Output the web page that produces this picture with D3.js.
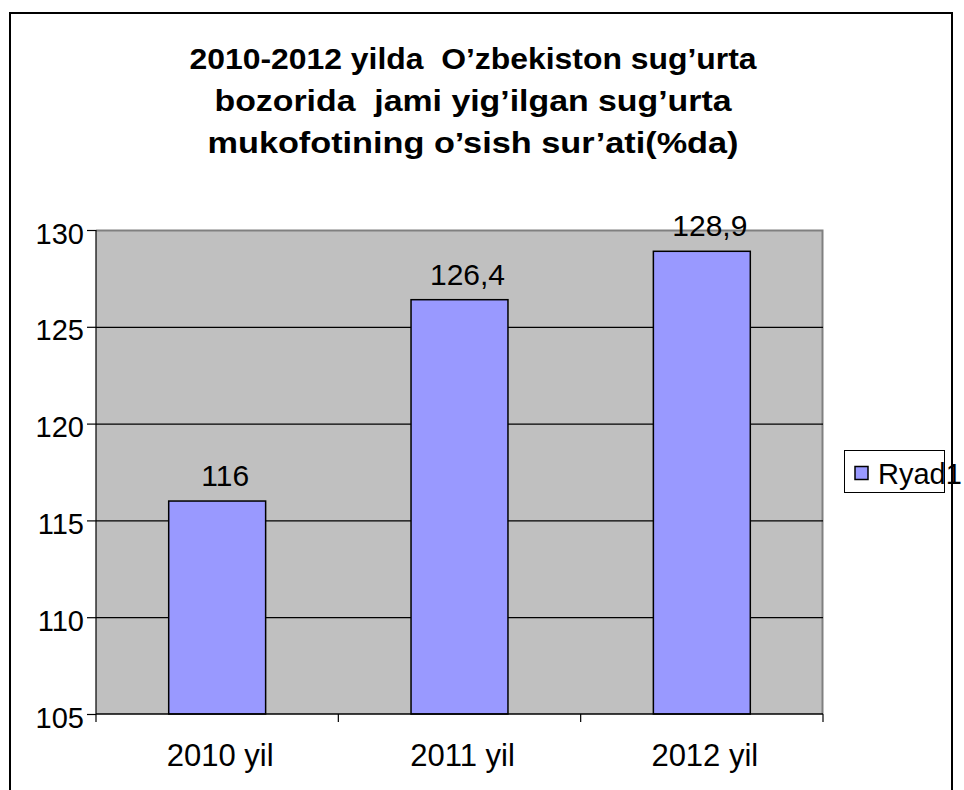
<html>

<head>
    <script src="https://d3js.org/d3.v7.min.js"></script>
    <style>
        body {
            margin: 0;
            background: #fff;
        }

        text {
            font-family: Arial, "Liberation Sans", sans-serif;
            fill: #000;
        }

        .title {
            font-weight: bold;
            font-size: 29px;
            white-space: pre;
        }
    </style>
</head>

<body>
    <svg id="chart" width="964" height="790"></svg>

    <script>
        // chart data
        const categories = ["2010 yil", "2011 yil", "2012 yil"];
        const values = [116, 126.4, 128.9];
        const yTicks = [105, 110, 115, 120, 125, 130];
        const titleLines = [
            "2010-2012 yilda  O\u2019zbekiston sug\u2019urta",
            "bozorida  jami yig\u2019ilgan sug\u2019urta",
            "mukofotining o\u2019sish sur\u2019ati(%da)"
        ];
        const seriesName = "Ryad1";

        const svg = d3.select("#chart");
        const plot = { left: 96, right: 823, top: 230, bottom: 714 };
        const barColor = "#9999FF";

        // outer frame (bottom runs off the page)
        svg.append("path")
            .attr("d", "M10,800 L10,13 L952,13 L952,800")
            .attr("fill", "none")
            .attr("stroke", "black")
            .attr("stroke-width", 2);

        // title
        const titleWidths = [567, 517, 531];
        svg.selectAll("text.title").data(titleLines)
            .join("text")
            .attr("class", "title")
            .attr("x", 473)
            .attr("y", (d, i) => 69 + i * 42)
            .attr("text-anchor", "middle")
            .attr("textLength", (d, i) => titleWidths[i])
            .attr("lengthAdjust", "spacingAndGlyphs")
            .text(d => d);

        const xScale = d3.scaleBand().domain(categories).range([plot.left, plot.right]).padding(0);
        const yScale = d3.scaleLinear().domain([105, 130]).range([plot.bottom, plot.top]);

        // plot area background
        svg.append("rect")
            .attr("x", plot.left)
            .attr("y", plot.top)
            .attr("width", plot.right - plot.left)
            .attr("height", plot.bottom - plot.top)
            .attr("fill", "#C0C0C0");

        // gray border on top and right
        svg.append("path")
            .attr("d", `M${plot.left},${plot.top + 0.5} L${plot.right - 0.5},${plot.top + 0.5} L${plot.right - 0.5},${plot.bottom}`)
            .attr("fill", "none")
            .attr("stroke", "#808080")
            .attr("stroke-width", 2);

        // gridlines
        let gridlines = d3.axisLeft(yScale)
            .tickValues(yTicks.filter(t => t > 105 && t < 130))
            .tickSize(-(plot.right - plot.left))
            .tickFormat("");
        svg.append("g")
            .attr("class", "gridlines")
            .attr("transform", `translate(${plot.left},0)`)
            .call(gridlines)
            .call(g => g.select(".domain").remove())
            .call(g => g.selectAll("line").attr("stroke", "black").attr("stroke-width", 1.2));

        // bars
        const barWidth = xScale.bandwidth() * 0.4;
        svg.selectAll("rect.bar").data(values)
            .join("rect")
            .attr("class", "bar")
            .attr("x", (d, i) => xScale(categories[i]) + (xScale.bandwidth() - barWidth) / 2)
            .attr("y", d => yScale(d))
            .attr("width", barWidth)
            .attr("height", d => yScale(105) - yScale(d))
            .attr("fill", barColor)
            .attr("stroke", "black")
            .attr("stroke-width", 1.5);

        // data labels
        svg.selectAll("text.label").data(values)
            .join("text")
            .attr("class", "label")
            .attr("x", (d, i) => xScale(categories[i]) + xScale.bandwidth() / 2 + 8)
            .attr("y", d => yScale(d) - 15)
            .attr("text-anchor", "middle")
            .attr("font-size", 30)
            .text(d => String(d).replace(".", ","));

        // y axis
        let leftAxis = d3.axisLeft(yScale)
            .tickValues(yTicks)
            .tickSize(9)
            .tickPadding(3)
            .tickFormat(d => d);
        svg.append("g")
            .attr("class", "y axis")
            .attr("transform", `translate(${plot.left},0)`)
            .call(leftAxis)
            .call(g => g.select(".domain").attr("d", `M0,${plot.top}V${plot.bottom}`).attr("stroke", "black").attr("stroke-width", 1.2))
            .call(g => g.selectAll("line").attr("stroke", "black").attr("stroke-width", 1.2))
            .call(g => g.selectAll("text")
                .attr("font-size", 29)
                .attr("font-family", "Arial, 'Liberation Sans', sans-serif")
                .attr("fill", "black")
                .attr("dy", "0.45em"));

        // x axis: ticks at band boundaries
        const boundaries = categories.map(c => xScale(c)).concat([plot.right]);
        let xAxis = svg.append("g").attr("class", "x axis");
        xAxis.append("line")
            .attr("x1", plot.left).attr("x2", plot.right)
            .attr("y1", plot.bottom).attr("y2", plot.bottom)
            .attr("stroke", "black").attr("stroke-width", 1.5);
        xAxis.selectAll("line.tick").data(boundaries)
            .join("line")
            .attr("class", "tick")
            .attr("x1", d => d).attr("x2", d => d)
            .attr("y1", plot.bottom).attr("y2", plot.bottom + 8)
            .attr("stroke", "black").attr("stroke-width", 1.2);
        xAxis.selectAll("text").data(categories)
            .join("text")
            .attr("x", d => xScale(d) + xScale.bandwidth() / 2 + 3)
            .attr("y", 766)
            .attr("text-anchor", "middle")
            .attr("font-size", 31)
            .text(d => d);

        // legend
        let legend = svg.append("g").attr("class", "legend");
        legend.append("rect")
            .attr("x", 844.5).attr("y", 450.5)
            .attr("width", 100).attr("height", 42)
            .attr("fill", "white")
            .attr("stroke", "black")
            .attr("stroke-width", 1);
        legend.append("rect")
            .attr("x", 855).attr("y", 466.5)
            .attr("width", 13).attr("height", 13)
            .attr("fill", barColor)
            .attr("stroke", "black")
            .attr("stroke-width", 1.5);
        legend.append("text")
            .attr("x", 878)
            .attr("y", 484)
            .attr("font-size", 29)
            .text(seriesName);
    </script>
</body>

</html>
